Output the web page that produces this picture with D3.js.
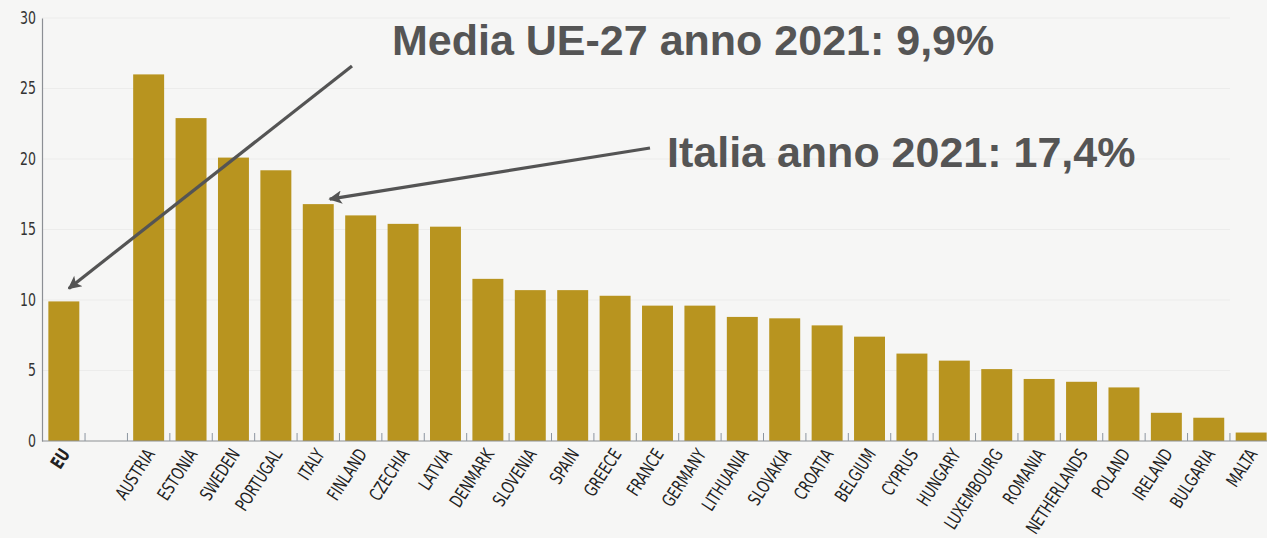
<!DOCTYPE html>
<html>
<head>
<meta charset="utf-8">
<script src="https://cdn.jsdelivr.net/npm/d3@7"></script>
<style>
  html, body { margin: 0; padding: 0; background: #f6f6f5; }
  svg { display: block; }
</style>
</head>
<body>
<svg id="chart" width="1267" height="538"></svg>
<script>
const categories = ["EU", "", "AUSTRIA", "ESTONIA", "SWEDEN", "PORTUGAL", "ITALY", "FINLAND", "CZECHIA", "LATVIA",
  "DENMARK", "SLOVENIA", "SPAIN", "GREECE", "FRANCE", "GERMANY", "LITHUANIA", "SLOVAKIA", "CROATIA",
  "BELGIUM", "CYPRUS", "HUNGARY", "LUXEMBOURG", "ROMANIA", "NETHERLANDS", "POLAND", "IRELAND", "BULGARIA", "MALTA"];
const values = [9.9, null, 26.0, 22.9, 20.1, 19.2, 16.8, 16.0, 15.4, 15.2,
  11.5, 10.7, 10.7, 10.3, 9.6, 9.6, 8.8, 8.7, 8.2,
  7.4, 6.2, 5.7, 5.1, 4.4, 4.2, 3.8, 2.0, 1.65, 0.6];
const yTicks = [0, 5, 10, 15, 20, 25, 30];
const annotations = [
  { text: "Media UE-27 anno 2021: 9,9%", target: "EU", value: 9.9 },
  { text: "Italia anno 2021: 17,4%", target: "ITALY", value: 16.8 }
];

const svg = d3.select("#chart");
const W = 1267, H = 538;
const mLeft = 42, mBottom = 441, mTop = 18;
const narrow = "'Liberation Sans Narrow', 'DejaVu Sans Condensed', sans-serif";

const x = d3.scaleBand().domain(d3.range(categories.length))
  .range([mLeft, 1273]).paddingInner(0.27).paddingOuter(0.15);
const y = d3.scaleLinear().domain([0, 30]).range([mBottom, mTop]);

// arrow marker
const defs = svg.append("defs");
defs.append("marker").attr("id", "ah").attr("viewBox", "0 0 10 10")
  .attr("refX", 9).attr("refY", 5).attr("markerWidth", 5).attr("markerHeight", 4.2)
  .attr("markerUnits", "strokeWidth").attr("orient", "auto")
  .append("path").attr("d", "M0,0 L10,5 L0,10 L2.5,5 Z").attr("fill", "#545454");

// faint gridlines
svg.append("g").selectAll("line").data(yTicks.filter(d => d > 0)).join("line")
  .attr("x1", mLeft).attr("x2", 1230)
  .attr("y1", d => y(d)).attr("y2", d => y(d))
  .attr("stroke", "#ececeb").attr("stroke-width", 1);

// bars
svg.append("g").selectAll("rect").data(values.map((v, i) => ({ v, i })).filter(d => d.v != null)).join("rect")
  .attr("x", d => x(d.i)).attr("width", x.bandwidth())
  .attr("y", d => y(d.v)).attr("height", d => y(0) - y(d.v))
  .attr("fill", "#b8941f");

// y axis
const yAxis = svg.append("g").attr("transform", `translate(${mLeft},0)`)
  .call(d3.axisLeft(y).tickValues(yTicks).tickSize(0).tickPadding(6));
yAxis.select(".domain").attr("stroke", "#8c8f94").attr("stroke-width", 1.2);
yAxis.selectAll("text").attr("font-family", narrow)
  .attr("font-size", 17).attr("fill", "#333")
  .attr("transform", "translate(-6,0) scale(0.82,1)").attr("text-anchor", "end")
  .attr("x", -6 / 0.82 * 0);

// x axis line
svg.append("line").attr("x1", mLeft).attr("x2", W).attr("y1", mBottom).attr("y2", mBottom)
  .attr("stroke", "#8c8f94").attr("stroke-width", 1.2);

// ticks at band boundaries (inside)
const step = x.step();
svg.append("g").selectAll("line").data(d3.range(1, categories.length)).join("line")
  .attr("x1", i => x(i) - (step - x.bandwidth()) / 2)
  .attr("x2", i => x(i) - (step - x.bandwidth()) / 2)
  .attr("y1", mBottom).attr("y2", mBottom - 8)
  .attr("stroke", "#8c95a0").attr("stroke-width", 1);

// x labels
svg.append("g").selectAll("text").data(categories.map((c, i) => ({ c, i })).filter(d => d.c)).join("text")
  .attr("transform", d => `translate(${x(d.i) + x.bandwidth() / 2 + 7},${mBottom + 13}) rotate(-57) scale(0.8,1)`)
  .attr("text-anchor", "end")
  .attr("font-family", narrow)
  .attr("font-size", 18)
  .attr("font-weight", d => d.c === "EU" ? "bold" : "normal")
  .attr("fill", "#222")
  .text(d => d.c);

// annotations
const idx = name => categories.indexOf(name);
const a0 = annotations[0], a1 = annotations[1];
const t0 = [x(idx(a0.target)) + x.bandwidth() / 2 + 5, y(a0.value) - 13];
const t1 = [x(idx(a1.target)) + x.bandwidth() - 4, y(a1.value) - 5];
svg.append("line").attr("x1", 352).attr("y1", 66).attr("x2", t0[0]).attr("y2", t0[1])
  .attr("stroke", "#545454").attr("stroke-width", 3.2).attr("marker-end", "url(#ah)");
svg.append("line").attr("x1", 650).attr("y1", 148).attr("x2", t1[0]).attr("y2", t1[1])
  .attr("stroke", "#545454").attr("stroke-width", 3.2).attr("marker-end", "url(#ah)");

svg.append("text").attr("x", 392).attr("y", 55)
  .attr("font-family", "'Liberation Sans', Arial, sans-serif").attr("font-weight", "bold")
  .attr("font-size", 43).attr("fill", "#555555").text(a0.text);
svg.append("text").attr("x", 667).attr("y", 167)
  .attr("font-family", "'Liberation Sans', Arial, sans-serif").attr("font-weight", "bold")
  .attr("font-size", 43).attr("fill", "#555555").text(a1.text);
</script>
</body>
</html>
